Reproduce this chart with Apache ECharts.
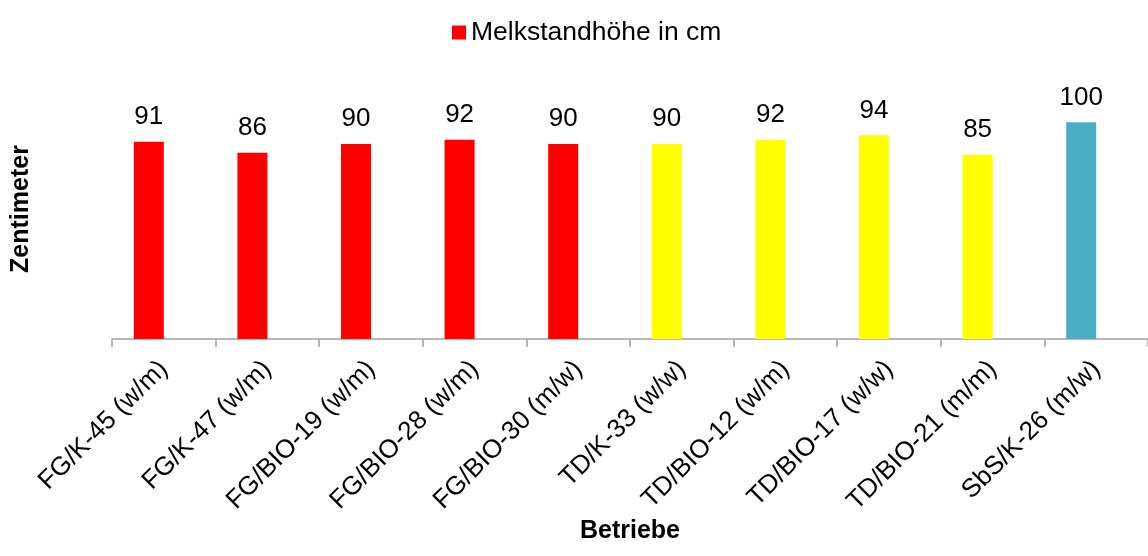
<!DOCTYPE html>
<html>
<head>
<meta charset="utf-8">
<script src="https://cdn.jsdelivr.net/npm/echarts@6/dist/echarts.min.js"></script>
<style>
  html, body { margin: 0; padding: 0; background: #ffffff; }
  #chart { width: 1148px; height: 556px; }
</style>
</head>
<body>
<div id="chart"></div>
<script>
// Betriebe and their milking parlour height (cm)
const categories = [
  'FG/K-45 (w/m)', 'FG/K-47 (w/m)', 'FG/BIO-19 (w/m)', 'FG/BIO-28 (w/m)',
  'FG/BIO-30 (m/w)', 'TD/K-33 (w/w)', 'TD/BIO-12 (w/m)', 'TD/BIO-17 (w/w)',
  'TD/BIO-21 (m/m)', 'SbS/K-26 (m/w)'
];
const heights = [91, 86, 90, 92, 90, 90, 92, 94, 85, 100];
const seriesName = 'Melkstandhöhe in cm';

// Bar colour by parlour type (prefix of the farm code)
const typeColors = { FG: '#FF0000', TD: '#FFFF00', SbS: '#4BACC6' };
const colorFor = name => typeColors[name.split('/')[0]];

const FONT = 'Liberation Sans, Arial, sans-serif';

const chart = echarts.init(document.getElementById('chart'), null, { renderer: 'canvas' });
chart.setOption({
  animation: false,
  backgroundColor: '#ffffff',
  textStyle: { fontFamily: FONT },
  legend: {
    data: [seriesName],
    top: 14,
    left: 447,
    itemWidth: 14,
    itemHeight: 14,
    icon: 'rect',
    itemGap: 6,
    textStyle: { fontSize: 26.5, color: '#000', fontFamily: FONT }
  },
  grid: { left: 112, width: 1040, top: 79, bottom: 217, containLabel: false },
  xAxis: {
    type: 'category',
    data: categories,
    name: 'Betriebe',
    nameLocation: 'middle',
    nameGap: 176,
    nameTextStyle: { fontSize: 25, fontWeight: 'bold', color: '#000', fontFamily: FONT },
    axisLine: { lineStyle: { color: '#A0A0A0', width: 1.5 } },
    axisTick: { show: true, length: 8, alignWithLabel: false, lineStyle: { color: '#A0A0A0', width: 1.5 } },
    axisLabel: {
      rotate: 45,
      interval: 0,
      margin: 26,
      fontSize: 26,
      color: '#000',
      fontFamily: FONT
    }
  },
  yAxis: {
    type: 'value',
    min: 0,
    max: 120,
    name: 'Zentimeter',
    nameLocation: 'middle',
    nameGap: 78,
    nameRotate: 90,
    nameTextStyle: { fontSize: 25, fontWeight: 'bold', color: '#000', fontFamily: FONT },
    axisLine: { show: false },
    axisTick: { show: false },
    axisLabel: { show: false },
    splitLine: { show: false }
  },
  series: [
    {
      name: seriesName,
      type: 'bar',
      barWidth: 30,
      barGap: '0%',
      itemStyle: { color: '#FF0000' },
      data: heights.map((v, i) => ({ value: v, itemStyle: { color: colorFor(categories[i]) } })),
      label: {
        show: true,
        position: 'top',
        distance: 12,
        fontSize: 26,
        color: '#000',
        fontFamily: FONT
      }
    },
    {
      // empty companion series keeps each bar left of its category centre
      name: '_pad',
      type: 'bar',
      barWidth: 30,
      data: categories.map(() => '-'),
      silent: true
    }
  ]
});
</script>
</body>
</html>
